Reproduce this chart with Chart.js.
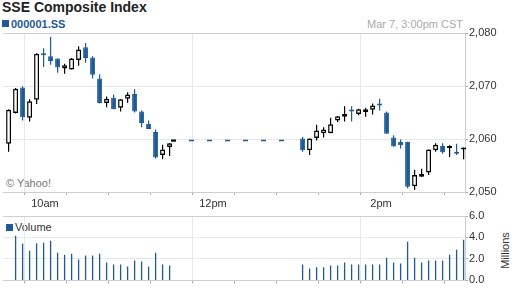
<!DOCTYPE html>
<html>
<head>
<meta charset="utf-8">
<script src="https://cdn.jsdelivr.net/npm/chart.js@4.4.1/dist/chart.umd.min.js"></script>
<style>
  body { margin: 0; width: 512px; height: 288px; position: relative; overflow: hidden; background: #fff;
         font-family: "Liberation Sans", Arial, sans-serif; }
  canvas { position: absolute; left: 0; }
  .t { position: absolute; white-space: nowrap; line-height: 13px; font-size: 11px; }
  .sq { position: absolute; width: 7px; height: 7px; background: #1f5a94; }
</style>
</head>
<body>
<div class="t" style="left:2px;top:-1px;font-size:14px;line-height:16px;font-weight:bold;color:#222">SSE Composite Index</div>
<div class="sq" style="left:2px;top:20px"></div>
<div class="t" style="left:11px;top:18px;font-weight:bold;color:#1f5a94">000001.SS</div>
<div class="t" style="right:49px;top:18px;color:#aaa">Mar 7, 3:00pm CST</div>
<div class="t" style="left:6px;top:177px;color:#777">© Yahoo!</div>
<div class="sq" style="left:6px;top:224px"></div>
<div class="t" style="left:15px;top:221px;color:#333">Volume</div>
<div class="t" style="left:483px;top:244px;width:44px;text-align:center;color:#333;transform:rotate(-90deg)">Millions</div>

<canvas id="price" width="512" height="212" style="top:0"></canvas>
<canvas id="vol" width="512" height="83" style="top:205px"></canvas>

<script>
// 5 minute bars, Shanghai time
const times = [
  '9:30', '9:35', '9:40', '9:45', '9:50', '9:55', '10:00', '10:05', '10:10', '10:15', '10:20', '10:25',
  '10:30', '10:35', '10:40', '10:45', '10:50', '10:55', '11:00', '11:05', '11:10', '11:15', '11:20', '11:25',
  '13:00', '13:05', '13:10', '13:15', '13:20', '13:25', '13:30', '13:35', '13:40', '13:45', '13:50', '13:55',
  '14:00', '14:05', '14:10', '14:15', '14:20', '14:25', '14:30', '14:35', '14:40', '14:45', '14:50', '14:55'
];
const open = [
  2059.1, 2064.9, 2069.7, 2064.0, 2067.4, 2076.0, 2075.6, 2075.2, 2073.3, 2073.1, 2074.9, 2077.3,
  2075.4, 2071.4, 2066.8, 2067.8, 2065.9, 2067.6, 2068.5, 2065.2, 2062.9, 2061.3, 2057.0, 2058.5,
  2060.1, 2057.9, 2060.2, 2061.1, 2061.1, 2063.5, 2064.2, 2065.3, 2064.7, 2065.1, 2065.5, 2066.4,
  2065.0, 2060.3, 2059.5, 2059.5, 2051.1, 2052.9, 2053.7, 2057.9, 2058.7, 2058.3, 2057.3, 2058.0
];
const high = [
  2065.6, 2069.6, 2069.9, 2067.5, 2076.2, 2077.1, 2079.3, 2075.2, 2074.2, 2075.3, 2077.5, 2078.1,
  2075.6, 2072.2, 2068.0, 2068.4, 2067.5, 2068.8, 2069.4, 2065.4, 2063.5, 2061.8, 2058.9, 2059.2,
  2060.4, 2060.1, 2062.7, 2062.2, 2064.0, 2064.3, 2066.2, 2066.2, 2065.7, 2065.9, 2066.7, 2067.6,
  2065.2, 2060.7, 2059.9, 2059.5, 2054.2, 2054.4, 2058.0, 2059.2, 2059.2, 2058.8, 2059.1, 2058.4
];
const low = [
  2057.6, 2064.8, 2063.5, 2063.3, 2066.6, 2073.6, 2074.0, 2072.5, 2072.3, 2073.1, 2073.8, 2074.4,
  2071.4, 2066.7, 2066.0, 2065.6, 2065.2, 2066.8, 2065.0, 2062.2, 2061.9, 2056.3, 2056.2, 2056.8,
  2057.6, 2057.0, 2059.7, 2060.3, 2061.1, 2063.2, 2063.3, 2063.3, 2064.5, 2064.2, 2064.6, 2065.4,
  2061.0, 2058.6, 2058.2, 2050.7, 2050.4, 2052.9, 2053.2, 2057.6, 2057.2, 2056.6, 2057.0, 2056.2
];
const close = [
  2065.5, 2069.5, 2064.1, 2067.1, 2076.1, 2075.8, 2074.7, 2073.5, 2073.9, 2075.2, 2076.9, 2075.3,
  2072.1, 2066.8, 2067.6, 2065.6, 2067.5, 2068.4, 2065.2, 2063.0, 2061.9, 2056.5, 2058.0, 2059.2,
  2057.9, 2060.1, 2061.6, 2061.8, 2062.8, 2064.3, 2064.7, 2065.2, 2065.6, 2065.6, 2066.3, 2066.3,
  2061.0, 2058.6, 2058.8, 2051.0, 2053.2, 2053.4, 2058.0, 2058.9, 2057.5, 2058.3, 2057.2, 2058.4
];
// volume, millions
const volume = [
  null, 4.15, 3.42, 2.77, 3.45, 3.51, 3.69, 2.58, 2.40, 2.49, 1.94, 2.31,
  2.31, 2.49, 1.66, 1.48, 1.48, 1.29, 1.85, 1.75, 1.29, 2.58, 1.48, 1.39,
  1.48, 1.11, 1.23, 1.23, 1.39, 1.39, 1.66, 1.48, 1.48, 1.48, 1.48, 1.48,
  2.12, 1.66, 1.57, 3.60, 2.12, 1.66, 1.85, 1.85, 1.85, 2.40, 2.86, 3.78
];
const lunchTimes = ['11:30', '12:58'];
const lunchPrice = 2059.7;
const priceTicks = [2050, 2060, 2070, 2080];
const volumeTicks = [0, 2, 4, 6];
const timeTicks = ['9:30', '10:00', '10:30', '11:00', '11:30', '12:00', '12:30', '13:00',
                   '13:30', '14:00', '14:30', '15:00'];
const timeLabels = { '10:00': '10am', '12:00': '12pm', '14:00': '2pm' };

const BLUE = '#1f5a94';
const GRID = '#e6e9ee';
const EDGE = '#cfcfcf';
const BAR_SHIFT = 4;  // minutes, bar drawn near the end of its interval

function toMin(t) {
  const [h, m] = t.split(':').map(Number);
  return h * 60 + m - 570;
}
const labelAt = {};
Object.keys(timeLabels).forEach(k => { labelAt[toMin(k)] = timeLabels[k]; });
const gridAt = [toMin('9:30')].concat(Object.keys(timeLabels).map(toMin));

const isUp = i => close[i] >= open[i];
const xs = times.map(t => toMin(t) + BAR_SHIFT);
const tickVal = c => (c.tick ? c.tick.value : null);

function xScale(showLabels, height) {
  return {
    type: 'linear',
    min: toMin(timeTicks[0]),
    max: toMin(timeTicks[timeTicks.length - 1]),
    offset: false,
    afterBuildTicks: s => { s.ticks = timeTicks.map(t => ({ value: toMin(t) })); },
    afterFit: s => { s.height = height; },
    ticks: {
      autoSkip: false, maxRotation: 0, padding: 2, color: '#333', font: { size: 11 },
      callback: v => showLabels ? (labelAt[v] || '') : ''
    },
    grid: {
      color: c => {
        const v = tickVal(c);
        if (v === 0) return EDGE;
        return gridAt.includes(v) ? GRID : 'rgba(0,0,0,0)';
      },
      tickLength: 3,
      tickColor: '#aaa'
    },
    border: { color: EDGE }
  };
}

function yScale(ticks, fmt) {
  const top = ticks[ticks.length - 1];
  return {
    position: 'right',
    min: ticks[0],
    max: top,
    afterBuildTicks: s => { s.ticks = ticks.map(v => ({ value: v })); },
    afterFit: s => { s.width = 47; },
    ticks: { padding: 1, color: '#333', font: { size: 11 }, callback: fmt },
    grid: { color: c => tickVal(c) === top ? EDGE : GRID, tickLength: 3, tickColor: '#aaa' },
    border: { color: EDGE }
  };
}

Chart.defaults.font.family = '"Liberation Sans", Arial, sans-serif';

const lunchStart = toMin(lunchTimes[0]);
const lunchEnd = toMin(lunchTimes[1]);

new Chart(document.getElementById('price'), {
  type: 'bar',
  data: {
    datasets: [
      {
        label: 'body',
        data: xs.map((x, i) => ({ x: x, y: [open[i], close[i]] })),
        grouped: false,
        maxBarThickness: 5,
        minBarLength: 2,
        borderSkipped: false,
        clip: false,
        backgroundColor: c => isUp(c.dataIndex) ? '#fff' : BLUE,
        borderColor: c => isUp(c.dataIndex) ? '#000' : BLUE,
        borderWidth: c => isUp(c.dataIndex) ? 1.5 : 1
      },
      {
        label: 'wick',
        data: xs.map((x, i) => ({ x: x, y: [low[i], high[i]] })),
        grouped: false,
        maxBarThickness: 1.2,
        borderSkipped: false,
        borderWidth: 0,
        clip: false,
        backgroundColor: c => isUp(c.dataIndex) ? '#000' : BLUE
      },
      {
        type: 'line',
        label: 'lunch close',
        data: [{ x: lunchStart, y: lunchPrice }, { x: lunchStart + 3.5, y: lunchPrice }],
        borderColor: '#000',
        borderWidth: 2,
        pointRadius: 0
      },
      {
        type: 'line',
        label: 'lunch',
        data: [{ x: lunchStart, y: lunchPrice }, { x: lunchEnd, y: lunchPrice }],
        borderColor: BLUE,
        borderWidth: 1.5,
        borderDash: [5, 13],
        pointRadius: 0
      }
    ]
  },
  options: {
    responsive: false,
    animation: false,
    layout: { padding: { left: 3, top: 33, right: 0, bottom: 0 } },
    plugins: { legend: { display: false }, tooltip: { enabled: false } },
    scales: {
      x: xScale(true, 20),
      y: yScale(priceTicks, v => v.toLocaleString('en-US'))
    }
  }
});

new Chart(document.getElementById('vol'), {
  type: 'bar',
  data: {
    datasets: [{
      label: 'Volume',
      data: xs.map((x, i) => ({ x: x, y: volume[i] })),
      grouped: false,
      maxBarThickness: 1.3,
      borderWidth: 0,
      backgroundColor: BLUE
    }]
  },
  options: {
    responsive: false,
    animation: false,
    layout: { padding: { left: 3, top: 11, right: 0, bottom: 0 } },
    plugins: { legend: { display: false }, tooltip: { enabled: false } },
    scales: {
      x: xScale(false, 7),
      y: yScale(volumeTicks, v => v.toFixed(1))
    }
  }
});
</script>
</body>
</html>
